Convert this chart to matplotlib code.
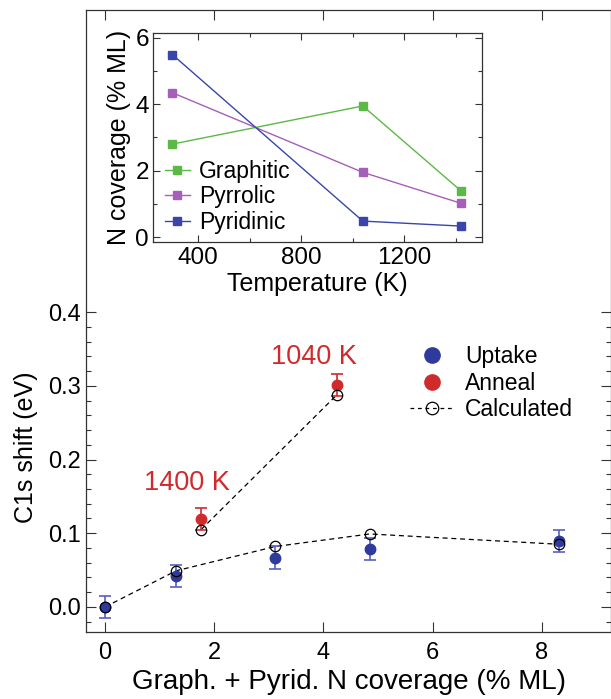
import matplotlib
matplotlib.use("Agg")
import matplotlib.pyplot as plt
from matplotlib.lines import Line2D
from matplotlib.ticker import MultipleLocator, FixedLocator

plt.rcParams['font.family'] = ['Liberation Sans', 'DejaVu Sans']

# inset data: N species vs anneal temperature
temp_k = [300, 1040, 1420]
graphitic = [2.8, 3.95, 1.4]
pyrrolic = [4.35, 1.95, 1.02]
pyridinic = [5.5, 0.48, 0.33]

# main data: C1s shift vs graphitic + pyridinic coverage
uptake_x = [0.0, 1.3, 3.12, 4.85, 8.32]
uptake_y = [0.0, 0.042, 0.067, 0.079, 0.089]
uptake_err = [0.015, 0.015, 0.015, 0.015, 0.015]
anneal_x = [1.76, 4.25]
anneal_y = [0.119, 0.301]
anneal_err = [0.015, 0.015]
calc_up_y = [0.0, 0.049, 0.082, 0.099, 0.085]
calc_an_y = [0.105, 0.288]
anneal_labels = ['1400 K', '1040 K']

blue = '#2e3a9c'
blue_err = '#5560c4'
red = '#d02a2c'
spine_c = '#333333'

fig = plt.figure(figsize=(6.11, 6.99), dpi=100)
ax = fig.add_axes([0.1408, 0.0959, 0.8600, 0.8898])

ax.plot(uptake_x, calc_up_y, ls='--', color='black', lw=0.9, dashes=(4, 3), zorder=2)
ax.plot(anneal_x, calc_an_y, ls='--', color='black', lw=0.9, dashes=(4, 3), zorder=2)
ax.errorbar(uptake_x, uptake_y, yerr=uptake_err, fmt='none', ecolor=blue_err,
            elinewidth=1.2, capsize=4.5, capthick=1.2, zorder=3)
ax.errorbar(anneal_x, anneal_y, yerr=anneal_err, fmt='none', ecolor=red,
            elinewidth=1.2, capsize=4.5, capthick=1.2, zorder=3)
ax.plot(uptake_x, uptake_y, 'o', color=blue, ms=7.5, ls='none', zorder=4)
ax.plot(anneal_x, anneal_y, 'o', color=red, ms=7.5, ls='none', zorder=4)
ax.plot(uptake_x, calc_up_y, ls='none', marker='o', mfc='none', mec='black', ms=7.5, mew=0.9, zorder=5)
ax.plot(anneal_x, calc_an_y, ls='none', marker='o', mfc='none', mec='black', ms=7.5, mew=0.9, zorder=5)

ax.text(1.5, 0.168, anneal_labels[0], color=red, fontsize=19.5, ha='center', va='center')
ax.text(3.83, 0.339, anneal_labels[1], color=red, fontsize=19.5, ha='center', va='center')

ax.set_xlim(-0.35, 9.28)
ax.set_ylim(-0.034, 0.81)
ax.xaxis.set_major_locator(MultipleLocator(2))
ax.yaxis.set_major_locator(FixedLocator([0.0, 0.1, 0.2, 0.3, 0.4]))
ax.yaxis.set_minor_locator(FixedLocator([i * 0.02 for i in range(-1, 21)]))
ax.yaxis.set_major_formatter(matplotlib.ticker.FormatStrFormatter('%.1f'))
ax.tick_params(which='both', direction='in', top=True, right=True, labelsize=17,
               color=spine_c, width=0.8)
ax.tick_params(which='major', length=7)
ax.tick_params(which='minor', length=3.5)
ax.tick_params(axis='x', pad=7)
ax.tick_params(axis='y', pad=4)
for s in ax.spines.values():
    s.set_color(spine_c)
    s.set_linewidth(0.9)
ax.set_xlabel('Graph. + Pyrid. N coverage (% ML)', fontsize=20, labelpad=4)
ax.set_ylabel('C1s shift (eV)', fontsize=18, labelpad=7, y=0.297)

handles = [
    Line2D([], [], ls='none', marker='o', color=blue, ms=11),
    Line2D([], [], ls='none', marker='o', color=red, ms=11),
    Line2D([], [], ls='--', dashes=(3, 3), color='black', lw=0.9, marker='o',
           mfc='none', mec='black', ms=9, mew=0.9),
]
ax.legend(handles, ['Uptake', 'Anneal', 'Calculated'], loc='upper left',
          bbox_to_anchor=(0.617, 0.461), frameon=False,
          fontsize=16.5, handlelength=1.9, handletextpad=0.5, labelspacing=0.15,
          borderpad=0, borderaxespad=0)

# inset
ins = fig.add_axes([0.2504, 0.6538, 0.5385, 0.2990])
ins.plot(temp_k, graphitic, '-s', color='#5cb946', lw=1, ms=6, label='Graphitic')
ins.plot(temp_k, pyrrolic, '-s', color='#a55fb8', lw=1, ms=6, label='Pyrrolic')
ins.plot(temp_k, pyridinic, '-s', color='#3a45ab', lw=1, ms=6, label='Pyridinic')
ins.set_xlim(225, 1503)
ins.set_ylim(-0.15, 6.15)
ins.xaxis.set_major_locator(MultipleLocator(400))
ins.xaxis.set_minor_locator(MultipleLocator(200))
ins.yaxis.set_major_locator(MultipleLocator(2))
ins.yaxis.set_minor_locator(MultipleLocator(1))
ins.tick_params(which='both', direction='in', top=True, right=True, labelsize=17.5,
                color=spine_c, width=0.8)
ins.tick_params(which='major', length=5)
ins.tick_params(which='minor', length=3)
ins.tick_params(axis='y', pad=3)
for s in ins.spines.values():
    s.set_color(spine_c)
    s.set_linewidth(0.9)
ins.set_xlabel('Temperature (K)', fontsize=18, labelpad=2)
ins.set_ylabel('N coverage (% ML)', fontsize=18, labelpad=3)
ins.legend(loc='upper left', bbox_to_anchor=(0.035, 0.392), frameon=False, fontsize=16.5,
           handlelength=1.1, handletextpad=0.4, labelspacing=0.1,
           borderpad=0, borderaxespad=0)

fig.savefig('out.png', dpi=100)
